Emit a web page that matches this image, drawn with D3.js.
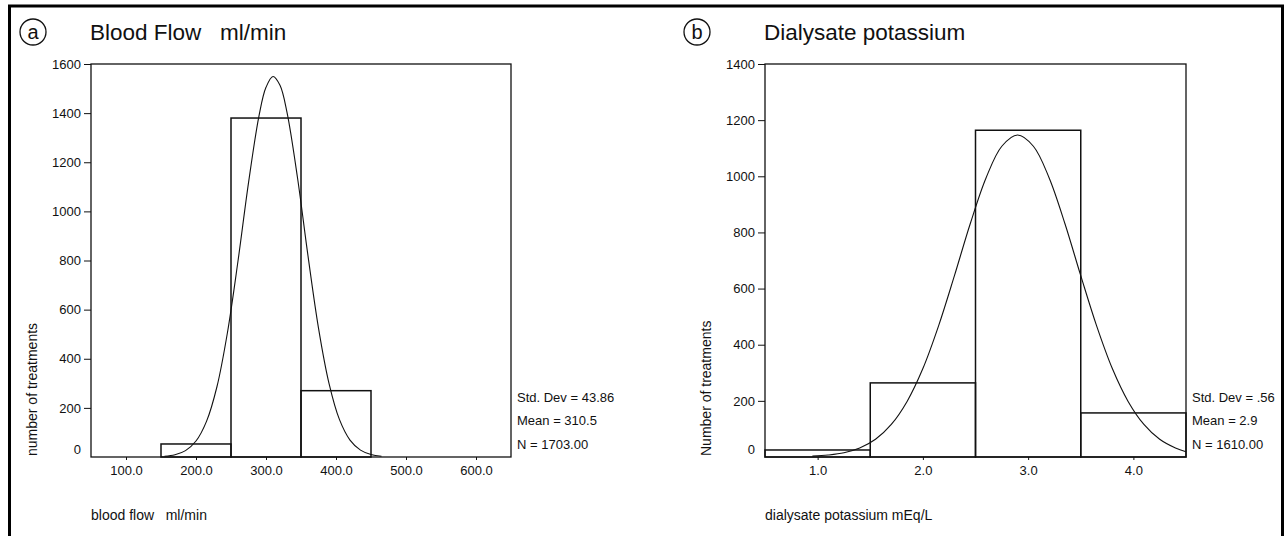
<!DOCTYPE html>
<html>
<head>
<meta charset="utf-8">
<script src="https://cdn.jsdelivr.net/npm/d3@7"></script>
<style>
  body { margin: 0; background: #fff; }
  svg text { font-family: "Liberation Sans", Arial, sans-serif; fill: #111; }
</style>
</head>
<body>
<svg id="chart" width="1285" height="536"></svg>
<script>
// Panel a: blood flow ml/min (bins 100 wide)
const binStartA = [150, 250, 350];
const countsA = [53, 1380, 270];
const xTicksA = [100, 200, 300, 400, 500, 600];
const yTicksA = [0, 200, 400, 600, 800, 1000, 1200, 1400, 1600];
// normal curve overlay
const curveXA = [155, 170, 185, 200, 215, 230, 245, 260, 275, 290, 300, 310, 320, 330, 345, 360, 375, 390, 405, 420, 435, 450, 465];
const curveYA = [3, 9, 26, 65, 145, 287, 508, 798, 1116, 1389, 1505, 1549, 1513, 1403, 1137, 819, 525, 300, 152, 69, 28, 10, 3];
const statsA = ["Std. Dev = 43.86", "Mean = 310.5", "N = 1703.00"];

// Panel b: dialysate potassium mEq/L (bins 1 wide)
const binStartB = [0.5, 1.5, 2.5, 3.5];
const countsB = [25, 264, 1164, 157];
const xTicksB = [1, 2, 3, 4];
const yTicksB = [0, 200, 400, 600, 800, 1000, 1200, 1400];
const curveXB = [0.95, 1.1, 1.25, 1.4, 1.55, 1.7, 1.85, 2.0, 2.15, 2.3, 2.45, 2.6, 2.75, 2.9, 3.05, 3.2, 3.35, 3.5, 3.65, 3.8, 3.95, 4.1, 4.25, 4.4, 4.5];
const curveYB = [3, 7, 15, 32, 63, 116, 198, 315, 468, 646, 831, 994, 1107, 1147, 1107, 994, 831, 646, 468, 315, 198, 116, 63, 32, 19];
const statsB = ["Std. Dev = .56", "Mean = 2.9", "N = 1610.00"];

const svg = d3.select("#chart");
svg.append("rect").attr("width", 1285).attr("height", 536).attr("fill", "#fff");

// outer frame
svg.append("rect")
  .attr("x", 9.5).attr("y", 6)
  .attr("width", 1273).attr("height", 560)
  .attr("fill", "none").attr("stroke", "#000").attr("stroke-width", 3);

function drawPanel(p) {
  const top = 64, bottom = 457;

  const x = d3.scaleLinear().domain(p.xDomain).range([p.left, p.right]);
  const y = d3.scaleLinear().domain(p.yDomain).range([bottom, top]);

  const g = svg.append("g");

  // panel letter in a circle
  g.append("circle")
    .attr("cx", p.letterX).attr("cy", 32).attr("r", 13)
    .attr("fill", "none").attr("stroke", "#111").attr("stroke-width", 1.3);
  g.append("text")
    .attr("x", p.letterX).attr("y", 39)
    .attr("text-anchor", "middle")
    .style("font-size", "20px")
    .text(p.letter);

  // title
  g.append("text")
    .attr("x", p.left - 1).attr("y", 40)
    .attr("xml:space", "preserve")
    .style("font-size", "22.5px")
    .style("white-space", "pre")
    .text(p.title);

  // bars
  g.selectAll("rect.bar")
    .data(p.counts)
    .join("rect")
    .attr("class", "bar")
    .attr("x", (d, i) => x(p.binStart[i]))
    .attr("width", (d, i) => x(p.binStart[i] + p.binWidth) - x(p.binStart[i]))
    .attr("y", d => y(d))
    .attr("height", d => bottom - y(d))
    .attr("fill", "none")
    .attr("stroke", "#111")
    .attr("stroke-width", 1.5);

  // fitted normal curve
  const pts = p.curveX.map((v, i) => [v, p.curveY[i]]);
  g.append("path")
    .datum(pts)
    .attr("fill", "none")
    .attr("stroke", "#111")
    .attr("stroke-width", 1.1)
    .attr("d", d3.line().x(d => x(d[0])).y(d => y(d[1])).curve(d3.curveCatmullRom));

  // plot box
  g.append("rect")
    .attr("x", p.left).attr("y", top)
    .attr("width", p.right - p.left).attr("height", bottom - top)
    .attr("fill", "none").attr("stroke", "#111").attr("stroke-width", 1.3);

  // axes
  const yAxis = g.append("g")
    .attr("transform", `translate(${p.left},0)`)
    .call(d3.axisLeft(y).tickValues(p.yTicks).tickFormat(d3.format("d"))
      .tickSize(7).tickPadding(3).tickSizeOuter(0));
  const xAxis = g.append("g")
    .attr("transform", `translate(0,${bottom})`)
    .call(d3.axisBottom(x).tickValues(p.xTicks).tickFormat(d3.format(".1f"))
      .tickSize(3).tickPadding(6).tickSizeOuter(0));

  [yAxis, xAxis].forEach(a => {
    a.select(".domain").remove();
    a.selectAll("line").attr("stroke", "#111");
    a.selectAll("text").style("font-size", "13px").attr("fill", "#111")
      .style("font-family", "'Liberation Sans', Arial, sans-serif");
  });
  // the zero label sits a little above the x axis line
  yAxis.selectAll(".tick").filter(d => d === 0).select("line").remove();
  yAxis.selectAll(".tick").filter(d => d === 0).select("text").attr("y", -8);

  // axis titles
  g.append("text")
    .attr("transform", `translate(${p.left - 54},${bottom - 1}) rotate(-90)`)
    .style("font-size", "14px")
    .text(p.yTitle);
  g.append("text")
    .attr("x", p.left).attr("y", 520)
    .attr("xml:space", "preserve")
    .style("white-space", "pre")
    .style("font-size", "14px")
    .text(p.xTitle);

  // summary statistics
  g.selectAll("text.stat")
    .data(p.stats)
    .join("text")
    .attr("class", "stat")
    .attr("x", p.right + 6)
    .attr("y", (d, i) => 401.5 + i * 23.5)
    .style("font-size", "13px")
    .text(d => d);
}

drawPanel({
  letter: "a", letterX: 33, left: 91, right: 511,
  xDomain: [50, 650], yDomain: [0, 1600],
  binStart: binStartA, binWidth: 100, counts: countsA,
  xTicks: xTicksA, yTicks: yTicksA,
  curveX: curveXA, curveY: curveYA, stats: statsA,
  title: "Blood Flow   ml/min",
  yTitle: "number of treatments",
  xTitle: "blood flow   ml/min"
});

drawPanel({
  letter: "b", letterX: 697, left: 765, right: 1186,
  xDomain: [0.5, 4.5], yDomain: [0, 1400],
  binStart: binStartB, binWidth: 1, counts: countsB,
  xTicks: xTicksB, yTicks: yTicksB,
  curveX: curveXB, curveY: curveYB, stats: statsB,
  title: "Dialysate potassium",
  yTitle: "Number of treatments",
  xTitle: "dialysate potassium mEq/L"
});
</script>
</body>
</html>
